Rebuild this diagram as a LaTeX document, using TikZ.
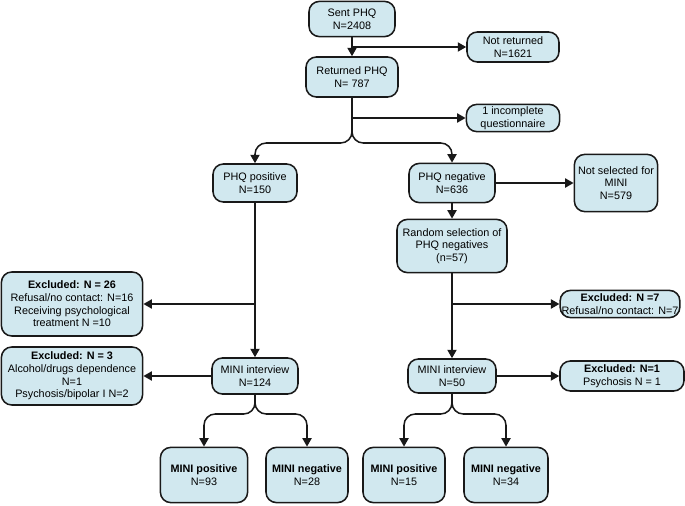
\documentclass[tikz,border=0pt]{standalone}
\usepackage{fontspec}
\setmainfont{Liberation Sans}
\usetikzlibrary{arrows.meta, positioning}
\definecolor{boxfill}{RGB}{209,232,239}
\colorlet{cLine}{black!90}
\tikzset{
  box/.style={draw=cLine, fill=boxfill, line width=1.1pt, rounded corners=2.6mm,
    align=center, inner sep=1pt, font=\fontsize{7.7}{9}\selectfont},
  arr/.style={line width=1.1pt, color=cLine, -{Triangle[length=6pt,width=6.5pt]}},
}

\begin{document}
\begin{tikzpicture}[x=0.025cm, y=-0.025cm]
  \useasboundingbox (0,0) rectangle (685,506);
  % Caixas do topo
  \node[box, minimum width=2.15cm, minimum height=0.88cm] (sent) at (352,19) {Sent PHQ\\N=2408};
  \node[box, minimum width=2.3cm, minimum height=0.75cm] (notret) at (513,47) {Not returned\\N=1621};
  \node[box, minimum width=2.3cm, minimum height=1.0cm] (returned) at (352,77) {Returned PHQ\\N= 787};
  \node[box, minimum width=2.33cm, minimum height=0.68cm] (incompl) at (513,118) {1 incomplete\\questionnaire};
  % PHQ positivo / negativo
  \node[box, minimum width=2.1cm, minimum height=0.95cm] (phqpos) at (255,183) {PHQ positive\\N=150};
  \node[box, minimum width=2.15cm, minimum height=0.98cm] (phqneg) at (452,183) {PHQ negative\\N=636};
  \node[box, minimum width=2.08cm, minimum height=1.43cm] (notsel) at (616,183) {Not selected for\\MINI\\N=579};
  \node[box, minimum width=2.75cm, minimum height=1.33cm] (random) at (452,246) {Random selection of\\PHQ negatives\\(n=57)};
  % Exclusoes
  \node[box, minimum width=3.53cm, minimum height=1.6cm] (excla) at (72,304)
    {\textbf{Excluded: N = 26}\\Refusal/no contact: N=16\\Receiving psychological\\treatment N =10};
  \node[box, minimum width=2.98cm, minimum height=0.68cm] (exclb) at (620,304)
    {\textbf{Excluded: N =7}\\Refusal/no contact: N=7};
  \node[box, minimum width=3.53cm, minimum height=1.45cm] (exclc) at (72,376)
    {\textbf{Excluded: N = 3}\\Alcohol/drugs dependence\\N=1\\Psychosis/bipolar I N=2};
  \node[box, minimum width=3.1cm, minimum height=0.75cm] (excld) at (622,376)
    {\textbf{Excluded: N=1}\\Psychosis N = 1};
  % Entrevistas MINI
  \node[box, minimum width=2.15cm, minimum height=0.9cm] (minil) at (255,376) {MINI interview\\N=124};
  \node[box, minimum width=2.2cm, minimum height=0.85cm] (minir) at (452,376) {MINI interview\\N=50};
  % Resultados
  \node[box, minimum width=2.18cm, minimum height=1.38cm] (mposl) at (204,475) {\textbf{MINI positive}\\N=93};
  \node[box, minimum width=2.05cm, minimum height=1.38cm] (mnegl) at (307,475) {\textbf{MINI negative}\\N=28};
  \node[box, minimum width=2.05cm, minimum height=1.38cm] (mposr) at (404,475) {\textbf{MINI positive}\\N=15};
  \node[box, minimum width=2.1cm, minimum height=1.38cm] (mnegr) at (506,475) {\textbf{MINI negative}\\N=34};
  % Pontos de divisao
  \coordinate (splita) at (352,143);
  \coordinate (splitb) at (255,414);
  \coordinate (splitc) at (452,414);
  % Setas
  \draw[arr] (sent) -- (returned);
  \draw[arr] (sent.south |- notret) -- (notret.west);
  \draw[arr] (returned.south |- incompl) -- (incompl.west);
  \draw[arr, rounded corners=8pt] (returned.south) -- (splita) -| (phqpos.north);
  \draw[arr, rounded corners=8pt] (returned.south) -- (splita) -| (phqneg.north);
  \draw[arr] (phqneg) -- (notsel);
  \draw[arr] (phqneg) -- (random);
  \draw[arr] (phqpos) -- (minil);
  \draw[arr] (phqpos.south |- excla) -- (excla.east);
  \draw[arr] (random) -- (minir);
  \draw[arr] (random.south |- exclb) -- (exclb.west);
  \draw[arr] (minil) -- (exclc);
  \draw[arr] (minir) -- (excld);
  \draw[arr, rounded corners=8pt] (minil.south) -- (splitb) -| (mposl.north);
  \draw[arr, rounded corners=8pt] (minil.south) -- (splitb) -| (mnegl.north);
  \draw[arr, rounded corners=8pt] (minir.south) -- (splitc) -| (mposr.north);
  \draw[arr, rounded corners=8pt] (minir.south) -- (splitc) -| (mnegr.north);
\end{tikzpicture}
\end{document}
